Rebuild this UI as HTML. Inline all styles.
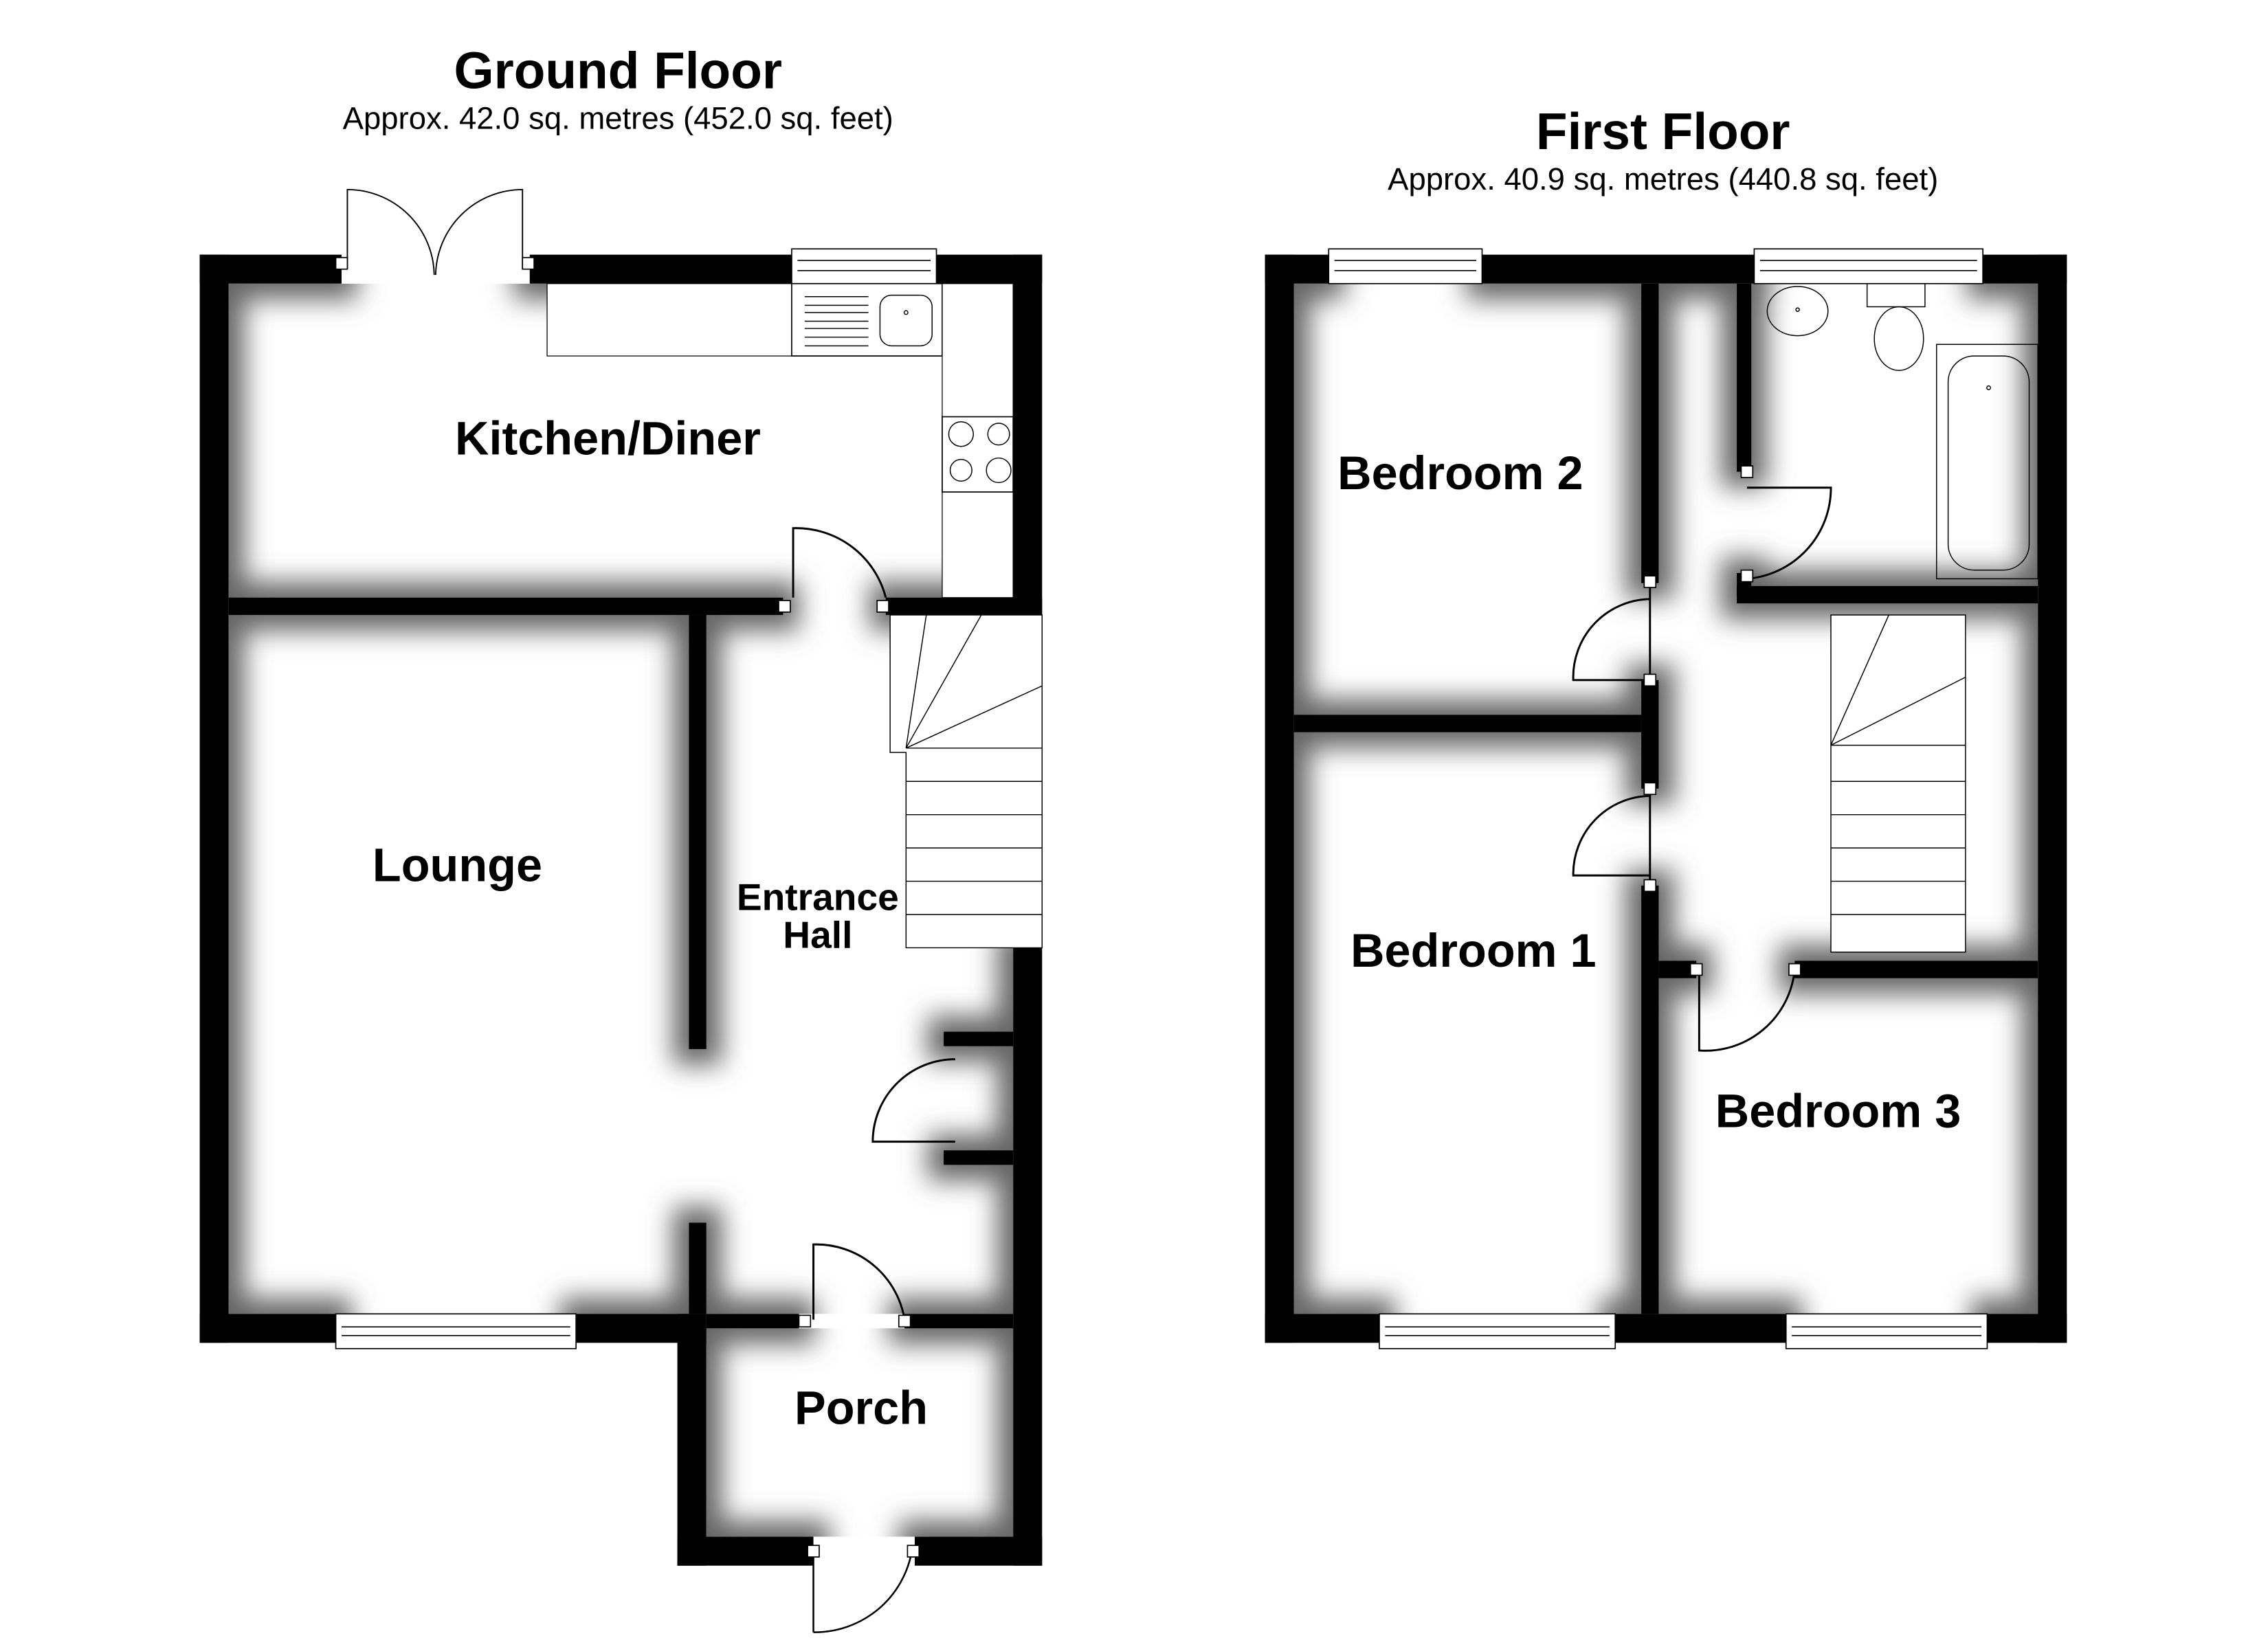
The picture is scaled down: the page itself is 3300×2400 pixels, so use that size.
<!DOCTYPE html>
<html><head><meta charset="utf-8"><style>html,body{margin:0;padding:0;background:#fff}svg{display:block}</style></head>
<body>
<svg width="3300" height="2400" viewBox="0 0 1567 1139.6" preserveAspectRatio="none" xmlns="http://www.w3.org/2000/svg" font-family="Liberation Sans, Arial, sans-serif">
<defs>
<filter id="bl" x="-10%" y="-10%" width="120%" height="120%"><feGaussianBlur stdDeviation="9"/></filter>
<clipPath id="ci">
<rect x="158" y="196" width="542" height="712"/><rect x="488" y="918" width="212" height="144"/>
<rect x="894" y="196" width="514" height="712"/>
</clipPath>
<g id="walls">
<rect x="138" y="176" width="98" height="20"/><rect x="366" y="176" width="181" height="20"/><rect x="647" y="176" width="73" height="20"/>
<rect x="138" y="176" width="20" height="752"/>
<rect x="138" y="908" width="94" height="20"/><rect x="398" y="908" width="90" height="20"/>
<rect x="700" y="176" width="20" height="249"/><rect x="700" y="655" width="20" height="427"/>
<rect x="468" y="908" width="20" height="174"/>
<rect x="468" y="1062" width="94" height="20"/><rect x="632" y="1062" width="88" height="20"/>
<rect x="158" y="413" width="383" height="12"/><rect x="612" y="413" width="108" height="12"/>
<rect x="476" y="425" width="12" height="300"/><rect x="476" y="845" width="12" height="63"/>
<rect x="488" y="908" width="64" height="10"/><rect x="625" y="908" width="75" height="10"/>
<rect x="652" y="713" width="48" height="10"/><rect x="652" y="795" width="48" height="10"/>
<rect x="874" y="176" width="44" height="20"/><rect x="1024" y="176" width="188" height="20"/><rect x="1370" y="176" width="58" height="20"/>
<rect x="874" y="176" width="20" height="752"/><rect x="1408" y="176" width="20" height="752"/>
<rect x="874" y="908" width="79" height="20"/><rect x="1116" y="908" width="118" height="20"/><rect x="1373" y="908" width="55" height="20"/>
<rect x="1134" y="196" width="12" height="207"/><rect x="1134" y="470" width="12" height="75"/><rect x="1134" y="612" width="12" height="296"/>
<rect x="894" y="494" width="240" height="12"/>
<rect x="1200" y="196" width="10" height="130"/><rect x="1200" y="396" width="10" height="16"/>
<rect x="1200" y="405" width="208" height="12"/>
<rect x="1146" y="664" width="26" height="12"/><rect x="1240" y="664" width="168" height="12"/>
</g>
</defs>
<g clip-path="url(#ci)"><use href="#walls" fill="#666" stroke="#666" stroke-width="22" filter="url(#bl)"/></g>
<use href="#walls" fill="#000"/>
<g fill="#fff" stroke="#000" stroke-width="0.8">
<rect x="547" y="172" width="100" height="24"/><line x1="551" y1="180" x2="643" y2="180"/><line x1="551" y1="187" x2="643" y2="187"/>
<rect x="232" y="908" width="166" height="24"/><line x1="236" y1="917" x2="394" y2="917"/><line x1="236" y1="923" x2="394" y2="923"/>
<rect x="918" y="172" width="106" height="24"/><line x1="922" y1="180" x2="1020" y2="180"/><line x1="922" y1="187" x2="1020" y2="187"/>
<rect x="1212" y="172" width="158" height="24"/><line x1="1216" y1="180" x2="1366" y2="180"/><line x1="1216" y1="187" x2="1366" y2="187"/>
<rect x="953" y="908" width="163" height="24"/><line x1="957" y1="917" x2="1112" y2="917"/><line x1="957" y1="923" x2="1112" y2="923"/>
<rect x="1234" y="908" width="139" height="24"/><line x1="1238" y1="917" x2="1369" y2="917"/><line x1="1238" y1="923" x2="1369" y2="923"/>
<rect x="378" y="196" width="273" height="50" stroke-width="0.6"/>
<rect x="547" y="196" width="104" height="50"/>
<rect x="651" y="196" width="49" height="217" stroke-width="0.6"/>
<rect x="651" y="288" width="49" height="52"/>
</g>
<g fill="none" stroke="#000" stroke-width="0.7">
<line x1="556" y1="205" x2="600" y2="205"/><line x1="556" y1="211" x2="600" y2="211"/><line x1="556" y1="216" x2="600" y2="216"/><line x1="556" y1="222" x2="600" y2="222"/><line x1="556" y1="227" x2="600" y2="227"/><line x1="556" y1="233" x2="600" y2="233"/><line x1="556" y1="239" x2="600" y2="239"/>
<rect x="608" y="204" width="36" height="35" rx="8"/><circle cx="626" cy="216" r="1.3"/>
<circle cx="664" cy="300" r="8.5"/><circle cx="690" cy="300" r="7.5"/><circle cx="664" cy="325" r="7.5"/><circle cx="690" cy="325" r="8.5"/>
<path d="M615 425 H720 V655 H626 V520 H615 Z" fill="#fff"/>
<line x1="626" y1="540" x2="720" y2="540"/><line x1="626" y1="563" x2="720" y2="563"/><line x1="626" y1="586" x2="720" y2="586"/><line x1="626" y1="609" x2="720" y2="609"/><line x1="626" y1="632" x2="720" y2="632"/>
<line x1="626" y1="517" x2="720" y2="517"/><line x1="626" y1="517" x2="720" y2="474"/><line x1="626" y1="517" x2="678" y2="425"/><line x1="626" y1="517" x2="640" y2="425"/>
<rect x="1265" y="425" width="93" height="233" fill="#fff"/>
<line x1="1265" y1="540" x2="1358" y2="540"/><line x1="1265" y1="563" x2="1358" y2="563"/><line x1="1265" y1="586" x2="1358" y2="586"/><line x1="1265" y1="609" x2="1358" y2="609"/><line x1="1265" y1="632" x2="1358" y2="632"/>
<line x1="1265" y1="515" x2="1358" y2="515"/><line x1="1265" y1="515" x2="1358" y2="468"/><line x1="1265" y1="515" x2="1305" y2="425"/>
<ellipse cx="1242" cy="215" rx="21" ry="17"/><circle cx="1242" cy="214" r="1.2"/>
<rect x="1290" y="196" width="40" height="16"/><ellipse cx="1312" cy="234" rx="17" ry="22"/>
<rect x="1338" y="238" width="70" height="162"/><rect x="1346" y="246" width="56" height="148" rx="18"/><circle cx="1374" cy="268" r="1.3"/>
<path d="M240 186 V131 A60 60 0 0 1 300 190 M361 186 V131 A60 60 0 0 0 301 190" stroke-width="0.9"/>
<path d="M548 413 V365 A64 64 0 0 1 612 413" stroke-width="1.4"/>
<path d="M562 912 V860 A62 62 0 0 1 625 912" stroke-width="1.4"/>
<path d="M562 1072 V1128 M562 1128 A68 68 0 0 0 630 1072" stroke-width="1.2"/>
<path d="M660 789 H603 A57 57 0 0 1 660 732" stroke-width="1.4"/>
<path d="M1140 403 V470 M1140 470 H1087 A54 54 0 0 1 1140 414" stroke-width="1.4"/>
<path d="M1140 545 V612 M1140 605 H1087 A54 54 0 0 1 1140 550" stroke-width="1.4"/>
<path d="M1207 400 A63 63 0 0 0 1265 337 H1207" stroke-width="1.4"/>
<path d="M1174 670 V726 A62 62 0 0 0 1240 670" stroke-width="1.4"/>
</g>
<g fill="#fff" stroke="#000" stroke-width="0.8">
<rect x="232" y="178" width="8" height="8"/><rect x="361" y="178" width="8" height="8"/>
<rect x="538" y="415" width="8" height="8"/><rect x="606" y="415" width="8" height="8"/>
<rect x="552" y="909" width="8" height="8"/><rect x="621" y="909" width="8" height="8"/>
<rect x="558" y="1068" width="8" height="8"/><rect x="627" y="1068" width="8" height="8"/>
<rect x="1136" y="398" width="8" height="8"/><rect x="1136" y="466" width="8" height="8"/>
<rect x="1136" y="541" width="8" height="8"/><rect x="1136" y="608" width="8" height="8"/>
<rect x="1203" y="322" width="8" height="8"/><rect x="1203" y="394" width="8" height="8"/>
<rect x="1168" y="666" width="8" height="8"/><rect x="1236" y="666" width="8" height="8"/>
</g>
<g text-anchor="middle" fill="#000">
<text x="427" y="61" font-size="35.5" font-weight="bold">Ground Floor</text>
<text x="427" y="89" font-size="21.6">Approx. 42.0 sq. metres (452.0 sq. feet)</text>
<text x="1149" y="103" font-size="35.5" font-weight="bold">First Floor</text>
<text x="1149" y="131" font-size="21.6">Approx. 40.9 sq. metres (440.8 sq. feet)</text>
<g font-size="32.5" font-weight="bold">
<text x="420" y="314">Kitchen/Diner</text>
<text x="316" y="609">Lounge</text>
<text x="565" y="629" font-size="26.2">Entrance</text>
<text x="565" y="655" font-size="26.2">Hall</text>
<text x="595" y="984">Porch</text>
<text x="1009" y="338">Bedroom 2</text>
<text x="1018" y="668">Bedroom 1</text>
<text x="1270" y="779">Bedroom 3</text>
</g>
</g>
</svg>
</body></html>
